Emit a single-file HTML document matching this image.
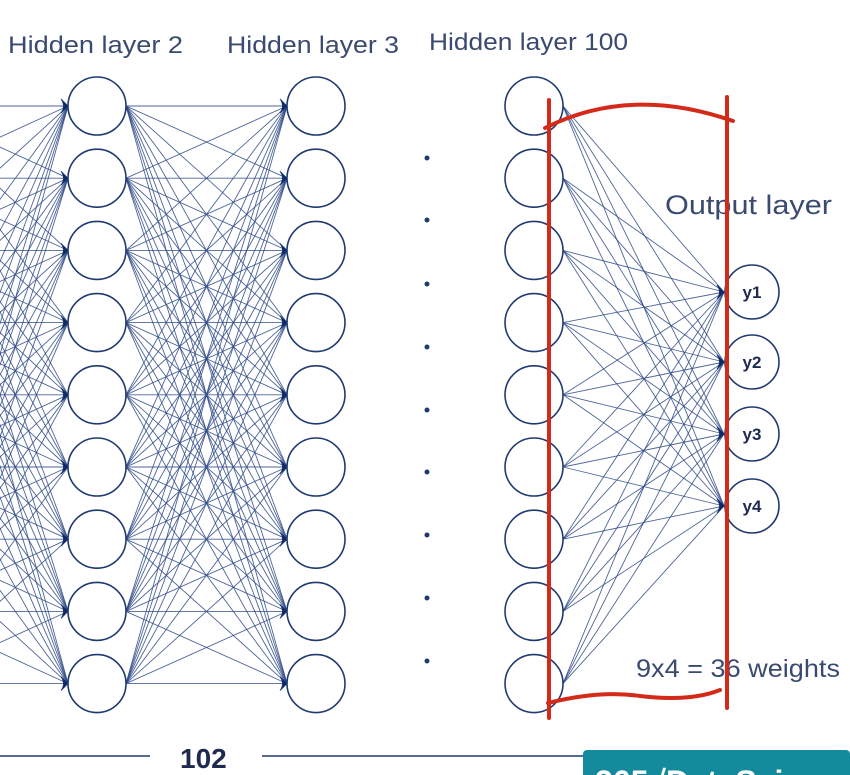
<!DOCTYPE html>
<html><head><meta charset="utf-8"><style>
html,body{margin:0;padding:0;background:#fff;width:850px;height:775px;overflow:hidden}
svg{display:block}
</style></head><body>
<svg id="s" width="850" height="775" viewBox="0 0 850 775" xmlns="http://www.w3.org/2000/svg" font-family="Liberation Sans, sans-serif">
<g id="lines" stroke="#2f4a86" stroke-width="0.9" stroke-opacity="0.85"></g>
<g id="nodes" fill="#fff" stroke="#1f3a70" stroke-width="1.6"></g>
<g fill="#3a4a70" font-size="24">
<text x="8" y="53" textLength="175" lengthAdjust="spacingAndGlyphs">Hidden layer 2</text>
<text x="227" y="53" textLength="172" lengthAdjust="spacingAndGlyphs">Hidden layer 3</text>
<text x="429" y="50" textLength="199" lengthAdjust="spacingAndGlyphs">Hidden layer 100</text>
<text x="665" y="214" font-size="27" textLength="167" lengthAdjust="spacingAndGlyphs">Output layer</text>
<text x="636" y="677" font-size="25" textLength="204" lengthAdjust="spacingAndGlyphs">9x4 = 36 weights</text>
</g>
<g fill="#1f3a70">
<circle cx="427" cy="158" r="2.5"/><circle cx="427" cy="220" r="2.5"/><circle cx="427" cy="284" r="2.5"/>
<circle cx="427" cy="347" r="2.5"/><circle cx="427" cy="410" r="2.5"/><circle cx="427" cy="472" r="2.5"/>
<circle cx="427" cy="535" r="2.5"/><circle cx="427" cy="598" r="2.5"/><circle cx="427" cy="661" r="2.5"/>
</g>
<g stroke="#d42a1a" stroke-width="4" fill="none" stroke-linecap="round">
<path d="M549 100 L549 718"/>
<path d="M727 97 L727 708"/>
<path d="M545 128 Q 630 85 733 121"/>
<path d="M548 703 Q 600 690 640 696 Q 690 702 720 690"/>
</g>
<line x1="0" y1="756" x2="150" y2="756" stroke="#1f3a70" stroke-width="1.5"/>
<text x="180" y="768" font-size="28" font-weight="bold" fill="#1f2a50">102</text>
<line x1="262" y1="756" x2="585" y2="756" stroke="#1f3a70" stroke-width="1.5"/>
<rect x="583" y="750" width="267" height="30" rx="4" fill="#138b9c"/>
<text x="595" y="793" font-size="32" font-weight="bold" fill="#fff">365√DataScie</text>
</svg>
<script>
var NS="http://www.w3.org/2000/svg";
var L=document.getElementById('lines'),N=document.getElementById('nodes');
var ys=[];for(var i=0;i<9;i++)ys.push(106+i*72.2);
var oy=[292,362,434,506];
function ln(a,b,c,d){var e=document.createElementNS(NS,'line');e.setAttribute('x1',a);e.setAttribute('y1',b);e.setAttribute('x2',c);e.setAttribute('y2',d);L.appendChild(e);}
function ci(x,y,r){var e=document.createElementNS(NS,'circle');e.setAttribute('cx',x);e.setAttribute('cy',y);e.setAttribute('r',r);N.appendChild(e);}
function tri(x,y){var e=document.createElementNS(NS,'path');e.setAttribute('d','M'+(x-7)+' '+(y-7)+' Q'+(x-2)+' '+y+' '+(x-7)+' '+(y+7)+' L'+x+' '+y+' Z');e.setAttribute('fill','#0f2a66');e.setAttribute('stroke','#0f2a66');L.appendChild(e);}
for(var i=0;i<9;i++)for(var j=0;j<9;j++){ln(-90,ys[i],68,ys[j]);ln(126,ys[i],287,ys[j]);}
for(var i=0;i<9;i++)for(var j=0;j<4;j++)ln(563,ys[i],724,oy[j]);
for(var j=0;j<9;j++){tri(68,ys[j]);tri(287,ys[j]);}
for(var j=0;j<4;j++)tri(724,oy[j]);
for(var j=0;j<9;j++){ci(97,ys[j],29);ci(316,ys[j],29);ci(534,ys[j],29);}
for(var j=0;j<4;j++){ci(752,oy[j],27);var t=document.createElementNS(NS,'text');t.setAttribute('x',752);t.setAttribute('y',oy[j]+6);t.setAttribute('text-anchor','middle');t.setAttribute('font-size','17');t.setAttribute('font-weight','bold');t.setAttribute('fill','#1f2a50');t.textContent='y'+(j+1);document.getElementById('s').appendChild(t);}
</script>
</body></html>
